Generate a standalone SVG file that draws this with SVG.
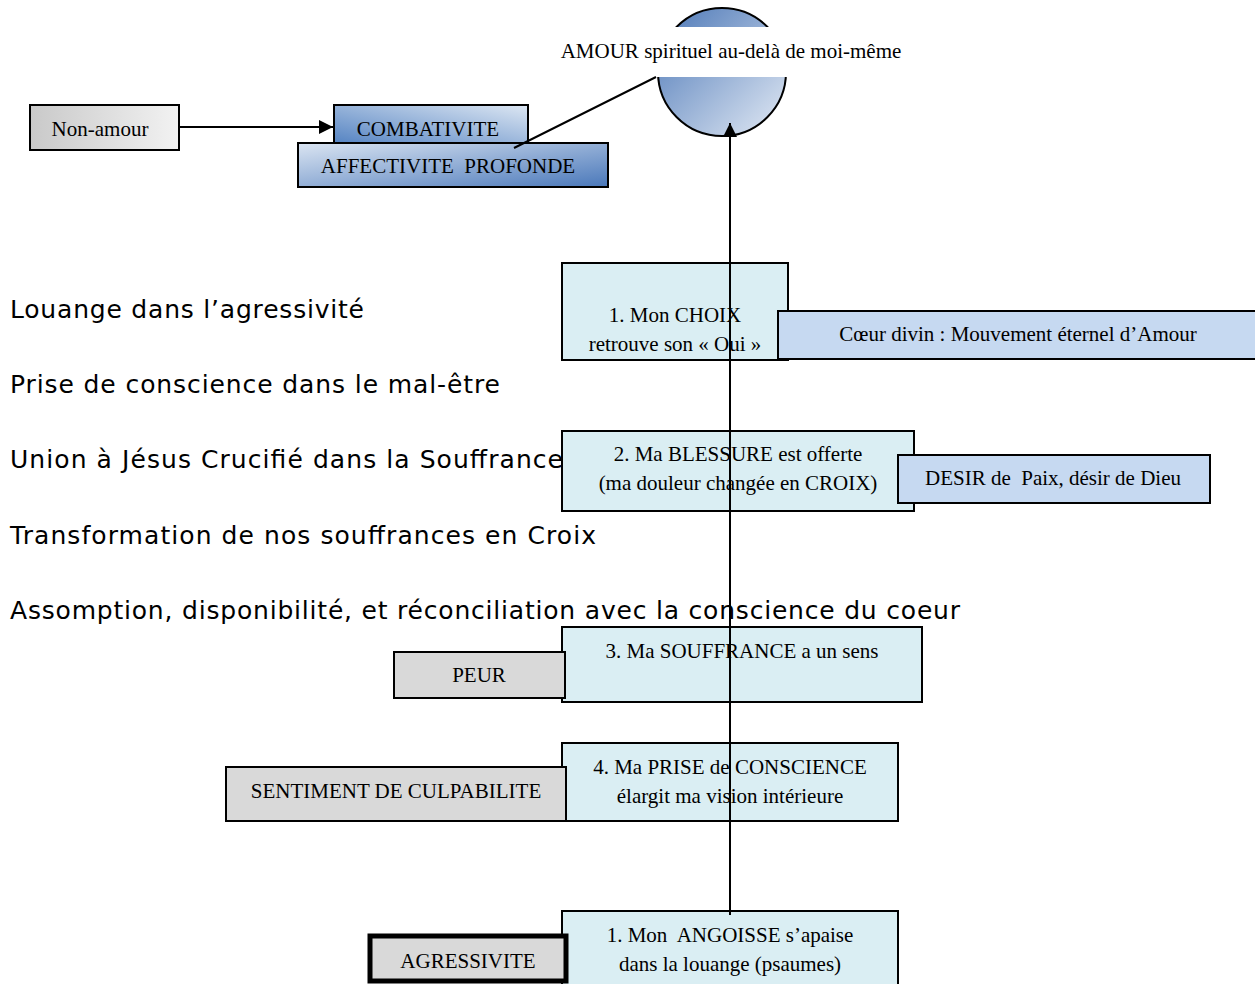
<svg xmlns="http://www.w3.org/2000/svg" width="1255" height="984" viewBox="0 0 1255 984">
<defs>
<linearGradient id="gCircle" x1="0" y1="0" x2="1" y2="1">
<stop offset="0" stop-color="#4a76b6"/><stop offset="1" stop-color="#e4ebf5"/>
</linearGradient>
<linearGradient id="gComb" x1="0" y1="1" x2="1" y2="0">
<stop offset="0" stop-color="#4f7fc0"/><stop offset="1" stop-color="#dde7f3"/>
</linearGradient>
<linearGradient id="gAff" x1="0" y1="0" x2="1" y2="1">
<stop offset="0" stop-color="#dbe5f2"/><stop offset="1" stop-color="#4a78ba"/>
</linearGradient>
<linearGradient id="gGray" x1="0" y1="0" x2="1" y2="0">
<stop offset="0" stop-color="#c9c9c9"/><stop offset="1" stop-color="#f2f2f2"/>
</linearGradient>
<marker id="arr" viewBox="0 0 10 10" refX="10" refY="5" markerWidth="14" markerHeight="14" markerUnits="userSpaceOnUse" orient="auto">
<path d="M0,0 L10,5 L0,10 z" fill="#000"/>
</marker>
</defs>
<style>
.box{stroke:#000;stroke-width:2}
.step{fill:#daeef3}
.side{fill:#c6d9f1}
.gray{fill:#d9d9d9}
.t{font-family:"Liberation Serif","Times New Roman",serif;font-size:21px;fill:#000;text-anchor:middle;white-space:pre}
.big{font-family:"DejaVu Sans",Verdana,sans-serif;font-size:25px;fill:#000}
.ln{stroke:#000;stroke-width:2;fill:none}
</style>
<rect width="1255" height="984" fill="#fff"/>

<g id="labels">
<text class="big" x="10" y="318" textLength="354" lengthAdjust="spacing">Louange dans l’agressivité</text>
<text class="big" x="10" y="393" textLength="490" lengthAdjust="spacing">Prise de conscience dans le mal-être</text>
<text class="big" x="10" y="468" textLength="553" lengthAdjust="spacing">Union à Jésus Crucifié dans la Souffrance</text>
<text class="big" x="10" y="544" textLength="586" lengthAdjust="spacing">Transformation de nos souffrances en Croix</text>
<text class="big" x="10" y="619" textLength="950" lengthAdjust="spacing">Assomption, disponibilité, et réconciliation avec la conscience du coeur</text>
</g>

<g id="amour">
<circle cx="722" cy="72" r="64" fill="url(#gCircle)" class="box"/>
<rect x="554" y="27" width="354" height="50" fill="#fff"/>
<text class="t" x="731" y="58">AMOUR spirituel au-delà de moi-même</text>
</g>

<g id="non-amour">
<rect x="30" y="105" width="149" height="45" fill="url(#gGray)" class="box"/>
<text class="t" x="100" y="136">Non-amour</text>
</g>

<g id="combativite">
<rect x="334" y="105" width="194" height="42" fill="url(#gComb)" class="box"/>
<text class="t" x="428" y="136">COMBATIVITE</text>
</g>

<g id="affectivite">
<rect x="298" y="143" width="310" height="44" fill="url(#gAff)" class="box"/>
<text class="t" x="448" y="173" xml:space="preserve">AFFECTIVITE  PROFONDE</text>
</g>

<g id="choix">
<rect x="562" y="263" width="226" height="97" class="box step"/>
<text class="t" x="675" y="322">1. Mon CHOIX</text>
<text class="t" x="675" y="351">retrouve son « Oui »</text>
</g>

<g id="coeur">
<rect x="778" y="311" width="480" height="48" class="box side"/>
<text class="t" x="1018" y="341">Cœur divin : Mouvement éternel d’Amour</text>
</g>

<g id="blessure">
<rect x="562" y="431" width="352" height="80" class="box step"/>
<text class="t" x="738" y="461">2. Ma BLESSURE est offerte</text>
<text class="t" x="738" y="490">(ma douleur changée en CROIX)</text>
</g>

<g id="desir">
<rect x="898" y="455" width="312" height="48" class="box side"/>
<text class="t" x="1053" y="485" xml:space="preserve">DESIR de  Paix, désir de Dieu</text>
</g>

<g id="souffrance">
<rect x="562" y="627" width="360" height="75" class="box step"/>
<text class="t" x="742" y="658">3. Ma SOUFFRANCE a un sens</text>
</g>

<g id="peur">
<rect x="394" y="652" width="171" height="46" class="box gray"/>
<text class="t" x="479" y="682">PEUR</text>
</g>

<g id="conscience">
<rect x="562" y="743" width="336" height="78" class="box step"/>
<text class="t" x="730" y="774">4. Ma PRISE de CONSCIENCE</text>
<text class="t" x="730" y="803">élargit ma vision intérieure</text>
</g>

<g id="culpabilite">
<rect x="226" y="767" width="340" height="54" class="box gray"/>
<text class="t" x="396" y="798">SENTIMENT DE CULPABILITE</text>
</g>

<g id="angoisse">
<rect x="562" y="911" width="336" height="80" class="box step"/>
<text class="t" x="730" y="942" xml:space="preserve">1. Mon  ANGOISSE s’apaise</text>
<text class="t" x="730" y="971">dans la louange (psaumes)</text>
</g>

<g id="agressivite">
<rect x="370" y="936" width="196" height="45" fill="#d9d9d9" stroke="#000" stroke-width="5"/>
<text class="t" x="468" y="968">AGRESSIVITE</text>
</g>

<g id="connectors">
<line class="ln" x1="179" y1="127" x2="333" y2="127" marker-end="url(#arr)"/>
<line class="ln" x1="656" y1="77" x2="514" y2="148"/>
<line class="ln" x1="730" y1="915" x2="730" y2="123" marker-end="url(#arr)"/>
</g>
</svg>
